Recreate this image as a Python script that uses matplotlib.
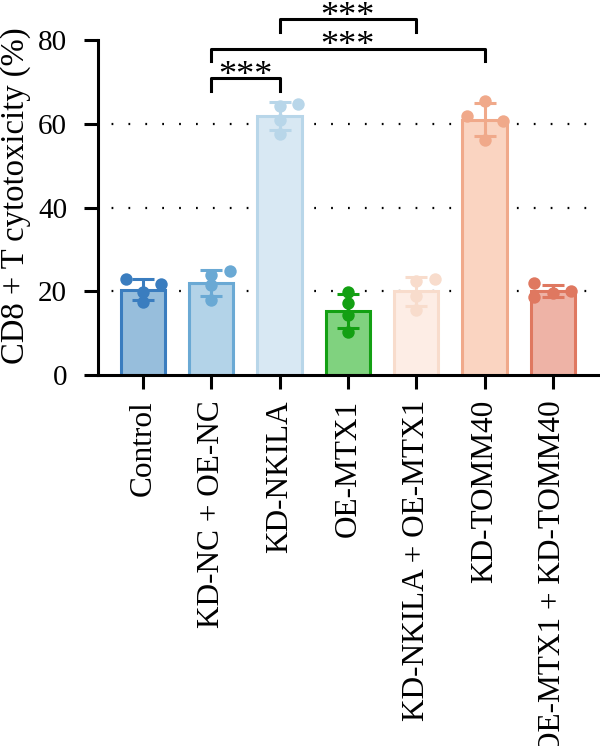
import numpy as np
import matplotlib
matplotlib.use('Agg')
import matplotlib.pyplot as plt

plt.rcParams['font.family'] = ['Liberation Serif', 'DejaVu Serif']

groups = ['Control', 'KD-NC + OE-NC', 'KD-NKILA', 'OE-MTX1',
          'KD-NKILA + OE-MTX1', 'KD-TOMM40', 'OE-MTX1 + KD-TOMM40']
# individual replicates (%)
control = [22.9, 21.7, 19.9, 17.4]
kd_nc = [24.9, 23.9, 21.5, 17.9]
kd_nkila = [64.7, 64.2, 61.0, 57.5]
oe_mtx1 = [19.8, 17.2, 14.3, 10.3]
kd_nkila_oe_mtx1 = [23.1, 22.6, 19.0, 15.7]
kd_tomm40 = [61.8, 60.7, 65.6, 56.1]
oe_mtx1_kd_tomm40 = [22.0, 18.6, 20.0, 19.6]
values = [control, kd_nc, kd_nkila, oe_mtx1, kd_nkila_oe_mtx1, kd_tomm40, oe_mtx1_kd_tomm40]

fills = ['#97bedc', '#b3d3e8', '#d8e8f3', '#80d27f', '#fdede5', '#fad4c1', '#eeb3a6']
edges = ['#3a7dbf', '#6aa9d4', '#b8d6e9', '#13a013', '#f8dccc', '#f0a98a', '#df7860']

# significance comparisons: (group a, group b, bracket height)
comparisons = [(1, 2, 71), (1, 5, 78), (2, 4, 85)]

# horizontal jitter for replicate dots
jitter = [[-0.25, 0.27, 0.0, 0.0], [0.27, 0.0, 0.0, 0.0], [0.27, 0.0, 0.0, 0.0],
          [0.0, 0.0, 0.0, 0.0], [0.27, 0.0, 0.0, 0.0], [-0.25, 0.27, 0.0, 0.0],
          [-0.27, -0.27, 0.27, 0.0]]

fig = plt.figure(figsize=(6, 7.46), dpi=100)
ax = fig.add_axes([0.163, 0.497, 0.837, 0.449])

x = np.arange(len(groups))
means = [np.mean(v) for v in values]
sds = [np.std(v, ddof=1) for v in values]

for y in [20, 40, 60]:
    ax.axhline(y, color='black', lw=1.6, ls=(1.5, (0.8, 6.8)), zorder=0)

ax.bar(x, means, width=0.65, color=fills, edgecolor=edges, linewidth=2.2, zorder=2)
for i in range(len(groups)):
    ax.scatter(x[i] + np.array(jitter[i]), values[i], s=80, color=edges[i], zorder=3, linewidths=0)
    ax.errorbar(x[i], means[i], yerr=sds[i], color=edges[i], capsize=8, capthick=2.2,
                elinewidth=2.2, zorder=4, fmt='none')

# significance brackets
for a, b, h in comparisons:
    ax.plot([a, a, b, b], [h - 3, h, h, h - 3], color='black', lw=2.2, clip_on=False)
    ax.text((a + b) / 2, h - 1.6, '***', ha='center', va='baseline',
            fontsize=26, clip_on=False)

ax.set_xlim(-0.66, 6.69)
ax.set_ylim(0, 80)
ax.set_yticks([0, 20, 40, 60, 80])
ax.set_xticks(x)
ax.set_xticklabels(groups, rotation=90, fontsize=22.5)
ax.tick_params(axis='y', labelsize=21, width=2.2, length=10, pad=12)
ax.tick_params(axis='x', width=2.2, length=10, pad=8)
ax.set_ylabel('CD8 + T cytotoxicity (%)', fontsize=23.5)
ax.yaxis.set_label_coords(-0.133, 0.537)

ax.spines['right'].set_visible(False)
ax.spines['top'].set_visible(False)
ax.spines['left'].set_linewidth(2.2)
ax.spines['bottom'].set_linewidth(2.2)

plt.savefig('out.png', dpi=100)
